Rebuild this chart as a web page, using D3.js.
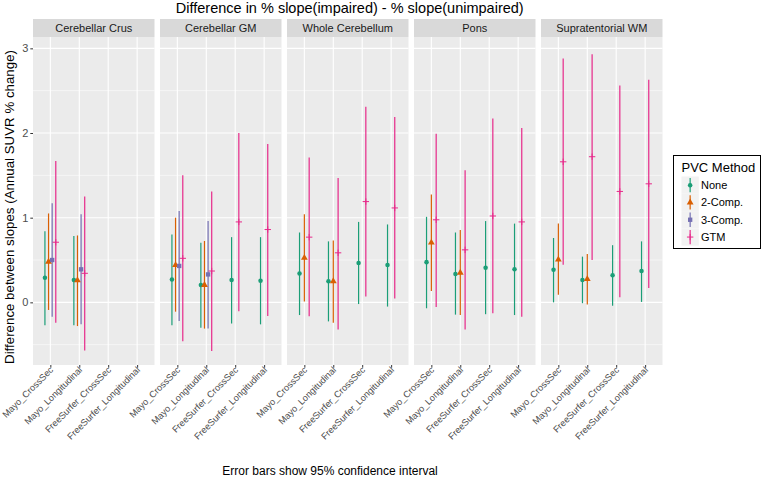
<!DOCTYPE html>
<html>
<head>
<meta charset="utf-8">
<script src="https://cdn.jsdelivr.net/npm/d3@7"></script>
<style>
  body { margin: 0; background: #fff; }
  svg { display: block; font-family: "Liberation Sans", Arial, sans-serif; }
</style>
</head>
<body>
<div id="container"></div>
<script>
// categories
const regions = ["Cerebellar Crus", "Cerebellar GM", "Whole Cerebellum", "Pons", "Supratentorial WM"];
const pipelines = ["Mayo_CrossSec", "Mayo_Longitudinal", "FreeSurfer_CrossSec", "FreeSurfer_Longitudinal"];
const methods = ["None", "2-Comp.", "3-Comp.", "GTM"];
const yTicks = [0, 1, 2, 3];

// estimates, [region][pipeline], null = not estimated
const noneEst = [[0.29, 0.265, null, null], [0.27, 0.205, 0.265, 0.255], [0.34, 0.25, 0.465, 0.44], [0.475, 0.335, 0.41, 0.39], [0.385, 0.265, 0.32, 0.37]];
const noneLo = [[-0.27, -0.27, null, null], [-0.27, -0.30, -0.25, -0.26], [-0.15, -0.225, -0.02, -0.05], [-0.07, -0.145, -0.14, -0.15], [0.0, -0.01, -0.04, 0.005]];
const noneHi = [[0.84, 0.785, null, null], [0.80, 0.705, 0.77, 0.77], [0.825, 0.72, 0.95, 0.92], [1.01, 0.825, 0.96, 0.93], [0.76, 0.54, 0.675, 0.72]];

const twoEst = [[0.48, 0.26, null, null], [0.44, 0.205, null, null], [0.525, 0.25, null, null], [0.705, 0.35, null, null], [0.505, 0.275, null, null]];
const twoLo = [[-0.09, -0.28, null, null], [-0.11, -0.31, null, null], [0.01, -0.24, null, null], [0.135, -0.15, null, null], [0.09, -0.025, null, null]];
const twoHi = [[1.05, 0.79, null, null], [1.00, 0.725, null, null], [1.04, 0.73, null, null], [1.275, 0.855, null, null], [0.93, 0.57, null, null]];

const threeEst = [[0.50, 0.39, null, null], [0.43, 0.33, null, null], [null, null, null, null], [null, null, null, null], [null, null, null, null]];
const threeLo = [[-0.17, -0.26, null, null], [-0.22, -0.31, null, null], [null, null, null, null], [null, null, null, null], [null, null, null, null]];
const threeHi = [[1.17, 1.04, null, null], [1.08, 0.96, null, null], [null, null, null, null], [null, null, null, null], [null, null, null, null]];

const gtmEst = [[0.71, 0.343, null, null], [0.52, 0.37, 0.95, 0.86], [0.77, 0.585, 1.19, 1.115], [0.975, 0.62, 1.02, 0.95], [1.66, 1.72, 1.31, 1.40]];
const gtmLo = [[-0.24, -0.57, null, null], [-0.46, -0.575, -0.105, -0.16], [-0.165, -0.32, 0.07, 0.045], [-0.055, -0.32, -0.13, -0.17], [0.445, 0.50, 0.06, 0.17]];
const gtmHi = [[1.67, 1.25, null, null], [1.50, 1.31, 2.0, 1.87], [1.71, 1.47, 2.31, 2.19], [1.99, 1.56, 2.17, 2.06], [2.88, 2.93, 2.56, 2.63]];

const COLORS = ["#1B9E77", "#D95F02", "#7570B3", "#E7298A"];

// layout
const W = 762, H = 479;
const stripTop = 19, panelTop = 37, panelBottom = 365;
const panelLeft = 33, panelW = 121.5, panelGap = 5.5;
const DODGE = 0.5; // dodge width in category steps

const svg = d3.select("#container").append("svg").attr("width", W).attr("height", H);

// build rows from the arrays
const seriesEst = [noneEst, twoEst, threeEst, gtmEst];
const seriesLo = [noneLo, twoLo, threeLo, gtmLo];
const seriesHi = [noneHi, twoHi, threeHi, gtmHi];
const rows = [];
regions.forEach((r, ri) => {
    pipelines.forEach((p, pi) => {
        const present = methods.map((m, mi) => mi).filter((mi) => seriesEst[mi][ri][pi] != null);
        present.forEach((mi, k) => {
            rows.push({
                region: r, pipeline: p, method: mi,
                est: seriesEst[mi][ri][pi], lo: seriesLo[mi][ri][pi], hi: seriesHi[mi][ri][pi],
                slot: k - (present.length - 1) / 2, n: present.length,
            });
        });
    });
});

// scales
const panelX = d3.scaleBand()
    .domain(regions)
    .range([panelLeft, panelLeft + regions.length * panelW + (regions.length - 1) * panelGap])
    .paddingInner(panelGap / (panelW + panelGap));
const x = d3.scalePoint().domain(pipelines).range([0, panelW]).padding(0.6);
const y = d3.scaleLinear().domain([-0.74, 3.134]).range([panelBottom, panelTop]);
const minorTicks = yTicks.map((t) => t - 0.5).filter((t) => t > y.domain()[0]).concat([yTicks[yTicks.length - 1] + 0.5].filter((t) => t < y.domain()[1]));

const xPos = (d) => x(d.pipeline) + d.slot * (DODGE / d.n) * x.step();

const symbolFor = (mi) => {
    if (mi === 0) return d3.symbol(d3.symbolCircle, 16)();
    if (mi === 1) return d3.symbol(d3.symbolTriangle, 20)();
    if (mi === 2) return d3.symbol(d3.symbolSquare, 19)();
    return "M-3.2,0H3.2M0,-3.2V3.2";
};
const drawPoint = (sel, mi) => {
    sel.attr("d", symbolFor(mi))
        .attr("fill", mi === 3 ? "none" : COLORS[mi])
        .attr("stroke", mi === 3 ? COLORS[mi] : "none")
        .attr("stroke-width", 1);
};

// panels
regions.forEach((r) => {
    const g = svg.append("g").attr("transform", `translate(${panelX(r)},0)`);
    // strip
    g.append("rect").attr("x", 0).attr("y", stripTop).attr("width", panelW).attr("height", panelTop - stripTop).attr("fill", "#D9D9D9");
    g.append("text").attr("x", panelW / 2).attr("y", (stripTop + panelTop) / 2 + 4)
        .attr("text-anchor", "middle").attr("font-size", 11).attr("fill", "#1A1A1A").text(r);
    // background and grid
    g.append("rect").attr("x", 0).attr("y", panelTop).attr("width", panelW).attr("height", panelBottom - panelTop).attr("fill", "#EBEBEB");
    g.selectAll(".minor").data(minorTicks).join("line")
        .attr("x1", 0).attr("x2", panelW).attr("y1", (d) => y(d)).attr("y2", (d) => y(d))
        .attr("stroke", "#fff").attr("stroke-width", 0.55);
    g.selectAll(".major").data(yTicks).join("line")
        .attr("x1", 0).attr("x2", panelW).attr("y1", (d) => y(d)).attr("y2", (d) => y(d))
        .attr("stroke", "#fff").attr("stroke-width", 1.1);
    g.selectAll(".vgrid").data(pipelines).join("line")
        .attr("x1", (d) => x(d)).attr("x2", (d) => x(d)).attr("y1", panelTop).attr("y2", panelBottom)
        .attr("stroke", "#fff").attr("stroke-width", 1.1);

    const data = rows.filter((d) => d.region === r);
    // error bars
    g.selectAll(".bar").data(data).join("line")
        .attr("x1", xPos).attr("x2", xPos)
        .attr("y1", (d) => y(d.lo)).attr("y2", (d) => y(d.hi))
        .attr("stroke", (d) => COLORS[d.method]).attr("stroke-width", 1.2);
    // points
    data.forEach((d) => {
        g.append("path").attr("transform", `translate(${xPos(d)},${y(d.est)})`).call(drawPoint, d.method);
    });

    // x axis
    const ax = g.append("g").attr("transform", `translate(0,${panelBottom})`)
        .call(d3.axisBottom(x).tickSize(2.7).tickPadding(2));
    ax.select(".domain").remove();
    ax.selectAll(".tick line").attr("stroke", "#333").attr("stroke-width", 1);
    ax.selectAll(".tick text")
        .attr("font-size", 9.2).attr("fill", "#4D4D4D")
        .attr("text-anchor", "end").attr("dy", null).attr("y", 0)
        .attr("transform", "translate(3,5.5) rotate(-45)");
});

// y axis
const ay = svg.append("g").attr("transform", `translate(${panelLeft},0)`)
    .call(d3.axisLeft(y).tickValues(yTicks).tickFormat(d3.format("d")).tickSize(2.7).tickPadding(2));
ay.select(".domain").remove();
ay.selectAll(".tick line").attr("stroke", "#333");
ay.selectAll(".tick text").attr("font-size", 11).attr("fill", "#4D4D4D").attr("font-family", "Liberation Sans, Arial, sans-serif");

// titles
const plotMid = (panelX.range()[0] + panelX.range()[1]) / 2;
svg.append("text").attr("x", plotMid + 2).attr("y", 13).attr("text-anchor", "middle")
    .attr("font-size", 14.5).attr("fill", "#000").text("Difference in % slope(impaired) - % slope(unimpaired)");
svg.append("text").attr("transform", "translate(14,207) rotate(-90)").attr("text-anchor", "middle")
    .attr("font-size", 13.3).attr("fill", "#000").text("Difference between slopes (Annual SUVR % change)");
svg.append("text").attr("x", 330).attr("y", 475).attr("text-anchor", "middle")
    .attr("font-size", 12).attr("fill", "#000").text("Error bars show 95% confidence interval");

// legend
const lg = svg.append("g").attr("transform", "translate(673.5,155.5)");
lg.append("rect").attr("width", 87).attr("height", 93).attr("fill", "#fff").attr("stroke", "#000").attr("stroke-width", 1);
lg.append("text").attr("x", 8).attr("y", 16).attr("font-size", 13).attr("fill", "#000").text("PVC Method");
const keys = lg.selectAll(".key").data(methods).join("g")
    .attr("transform", (d, i) => `translate(8,${21 + i * 17.3})`);
keys.append("rect").attr("width", 17.3).attr("height", 17.3).attr("fill", "#F2F2F2");
keys.append("line").attr("x1", 8.65).attr("x2", 8.65).attr("y1", 1.5).attr("y2", 15.8)
    .attr("stroke", (d, i) => COLORS[i]).attr("stroke-width", 1.2);
keys.append("path").attr("transform", "translate(8.65,8.65)").each(function (d, i) {
    d3.select(this).call(drawPoint, i);
});
keys.append("text").attr("x", 19.5).attr("y", 12.6).attr("font-size", 11).attr("fill", "#000").text((d) => d);
</script>
</body>
</html>
